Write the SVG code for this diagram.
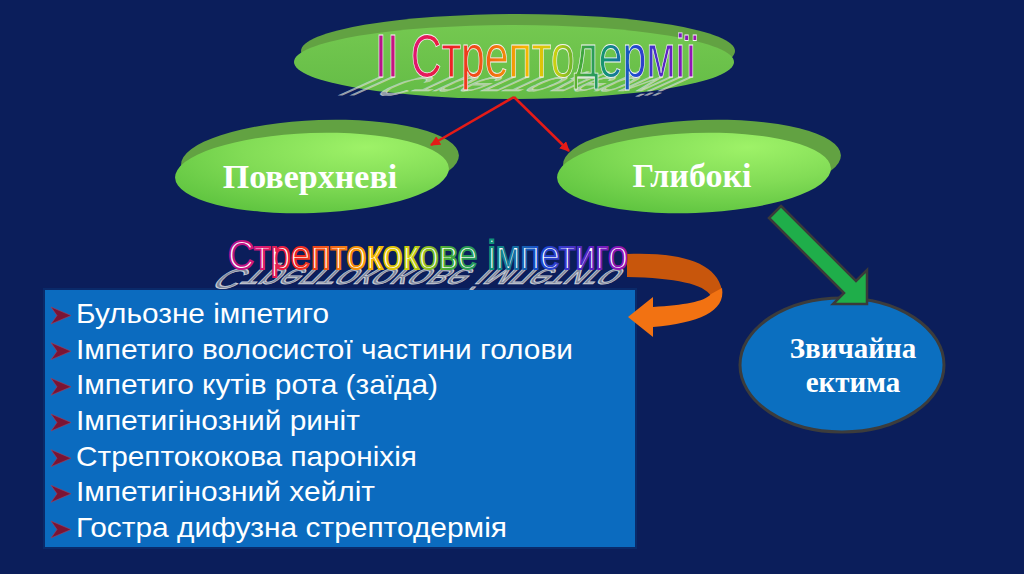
<svg xmlns="http://www.w3.org/2000/svg" width="1024" height="574" viewBox="0 0 1024 574">
<defs>
<style>
.lbl{font-family:"Liberation Serif","Times New Roman",serif;font-weight:bold;fill:#ffffff;text-anchor:middle}
.item{font-family:"Liberation Sans Narrow","Liberation Sans",Arial,sans-serif;font-size:28px;fill:#ffffff}
.bul{fill:#7a1434;stroke:#a04060;stroke-width:0.6}
.rim{fill:#62a242}
.red{stroke:#e41b17;stroke-width:2.5;fill:none}
</style>
<radialGradient id="gface" cx="0.7" cy="0.2" r="0.9">
<stop offset="0" stop-color="#9ef268"/>
<stop offset="0.5" stop-color="#82dc56"/>
<stop offset="1" stop-color="#5cc23e"/>
</radialGradient>
<linearGradient id="gtop" x1="0" y1="0" x2="0" y2="1">
<stop offset="0" stop-color="#74c850"/>
<stop offset="1" stop-color="#64bc46"/>
</linearGradient>
<linearGradient id="rb1" gradientUnits="userSpaceOnUse" x1="375" y1="0" x2="697" y2="0">
<stop offset="0" stop-color="#b0128e"/>
<stop offset="0.13" stop-color="#e2186c"/>
<stop offset="0.24" stop-color="#ee2222"/>
<stop offset="0.36" stop-color="#f26a12"/>
<stop offset="0.47" stop-color="#f5b800"/>
<stop offset="0.56" stop-color="#c8d010"/>
<stop offset="0.64" stop-color="#42a83a"/>
<stop offset="0.72" stop-color="#11907a"/>
<stop offset="0.8" stop-color="#1b4cd0"/>
<stop offset="0.9" stop-color="#5a24c4"/>
<stop offset="1" stop-color="#a012b2"/>
</linearGradient>
<linearGradient id="rb2" gradientUnits="userSpaceOnUse" x1="228" y1="0" x2="628" y2="0">
<stop offset="0" stop-color="#b0128e"/>
<stop offset="0.08" stop-color="#d81878"/>
<stop offset="0.17" stop-color="#ee2222"/>
<stop offset="0.27" stop-color="#f26a12"/>
<stop offset="0.37" stop-color="#f5b800"/>
<stop offset="0.46" stop-color="#c8d010"/>
<stop offset="0.55" stop-color="#42a83a"/>
<stop offset="0.66" stop-color="#11907a"/>
<stop offset="0.78" stop-color="#1b4cd0"/>
<stop offset="0.9" stop-color="#5a24c4"/>
<stop offset="1" stop-color="#a012b2"/>
</linearGradient>
<marker id="ah" viewBox="0 0 10 10" refX="9" refY="5" markerWidth="4" markerHeight="4" orient="auto" markerUnits="strokeWidth">
<path d="M0,0 L10,5 L0,10 z" fill="#e41b17"/>
</marker>
</defs>
<rect x="0" y="0" width="1024" height="574" fill="#0b1e5b"/>

<g id="node-streptodermii">
<ellipse class="rim" cx="518" cy="51" rx="217" ry="37"/>
<ellipse cx="514" cy="62" rx="220" ry="37" fill="url(#gtop)"/>
<text x="375" y="77" transform="matrix(1,0,0.95,-0.43,-73.2,110.1)" font-family="Liberation Sans, Arial, sans-serif" font-size="62" textLength="322" lengthAdjust="spacingAndGlyphs" fill="#d0d8cc" fill-opacity="0.7" stroke="#eeeeee" stroke-width="1" stroke-opacity="0.6">II Стрептодермії</text>
<text x="375" y="77" font-family="Liberation Sans, Arial, sans-serif" font-size="62" textLength="322" lengthAdjust="spacingAndGlyphs" fill="url(#rb1)" stroke="#f4f4f4" stroke-width="0.8">II Стрептодермії</text>
</g>

<g id="node-poverkhnevi">
<ellipse class="rim" cx="320" cy="160" rx="139" ry="40" transform="rotate(-2 320 160)"/>
<ellipse cx="312" cy="173" rx="137" ry="40" transform="rotate(-2 312 173)" fill="url(#gface)"/>
<text class="lbl" x="310" y="188" font-size="34">Поверхневі</text>
</g>

<g id="node-hlyboki">
<ellipse class="rim" cx="702" cy="160" rx="139" ry="40" transform="rotate(-2 702 160)"/>
<ellipse cx="694" cy="173" rx="137" ry="40" transform="rotate(-2 694 173)" fill="url(#gface)"/>
<text class="lbl" x="692" y="187" font-size="34">Глибокі</text>
</g>

<g id="node-ektyma">
<ellipse cx="842" cy="365" rx="102" ry="67" fill="#0b6fc0" stroke="#3c3c3c" stroke-width="3"/>
<text class="lbl" x="853" y="358" font-size="29">Звичайна</text>
<text class="lbl" x="853" y="392" font-size="29">ектима</text>
</g>

<g id="node-list">
<rect x="44" y="289" width="592" height="259" fill="#0b6bbf" stroke="#0a2a6a" stroke-width="2"/>
<polygon class="bul" points="51,307 71,315.5 51,324 57,315.5"/>
<polygon class="bul" points="51,342.7 71,351.2 51,359.7 57,351.2"/>
<polygon class="bul" points="51,378.3 71,386.8 51,395.3 57,386.8"/>
<polygon class="bul" points="51,414 71,422.5 51,431 57,422.5"/>
<polygon class="bul" points="51,449.7 71,458.2 51,466.7 57,458.2"/>
<polygon class="bul" points="51,485.3 71,493.8 51,502.3 57,493.8"/>
<polygon class="bul" points="51,521 71,529.5 51,538 57,529.5"/>
<text class="item" x="76" y="323" textLength="253" lengthAdjust="spacingAndGlyphs">Бульозне імпетиго</text>
<text class="item" x="76" y="358.7" textLength="497" lengthAdjust="spacingAndGlyphs">Імпетиго волосистої частини голови</text>
<text class="item" x="76" y="394.3" textLength="362" lengthAdjust="spacingAndGlyphs">Імпетиго кутів рота (заїда)</text>
<text class="item" x="76" y="430" textLength="284" lengthAdjust="spacingAndGlyphs">Імпетигінозний риніт</text>
<text class="item" x="76" y="465.7" textLength="341" lengthAdjust="spacingAndGlyphs">Стрептококова пароніхія</text>
<text class="item" x="76" y="501.3" textLength="299" lengthAdjust="spacingAndGlyphs">Імпетигінозний хейліт</text>
<text class="item" x="76" y="537" textLength="431" lengthAdjust="spacingAndGlyphs">Гостра дифузна стрептодермія</text>
</g>

<g id="connectors">
<line class="red" x1="514" y1="97" x2="431" y2="145" marker-end="url(#ah)"/>
<line class="red" x1="514" y1="97" x2="569" y2="151" marker-end="url(#ah)"/>
<polygon points="781,206 856,281 867,270 867,304 833,304 844,293 769,218" fill="#1fae4a" stroke="#3a3a3a" stroke-width="2.5" stroke-linejoin="miter"/>
<path d="M627,254 C680,252 716,262 722,290 L711,296 C704,284 676,278 627,277 Z" fill="#c8560c"/>
<path d="M722,288 C726,312 698,323 653,327 L653,337 L628,317 L653,297 L653,307 C684,305 704,302 711,294 Z" fill="#f27212"/>
</g>

<g id="node-impetyho">
<text x="228" y="269" transform="matrix(1,0,0.7,-0.7,-188.3,457.3)" font-family="Liberation Sans, Arial, sans-serif" font-size="40" textLength="400" lengthAdjust="spacingAndGlyphs" fill="#7c8498" stroke="#c8ccd6" stroke-width="1.2">Стрептококове імпетиго</text>
<text x="228" y="269" font-family="Liberation Sans, Arial, sans-serif" font-size="40" textLength="400" lengthAdjust="spacingAndGlyphs" fill="#ffffff" stroke="url(#rb2)" stroke-width="2">Стрептококове імпетиго</text>
</g>
</svg>
